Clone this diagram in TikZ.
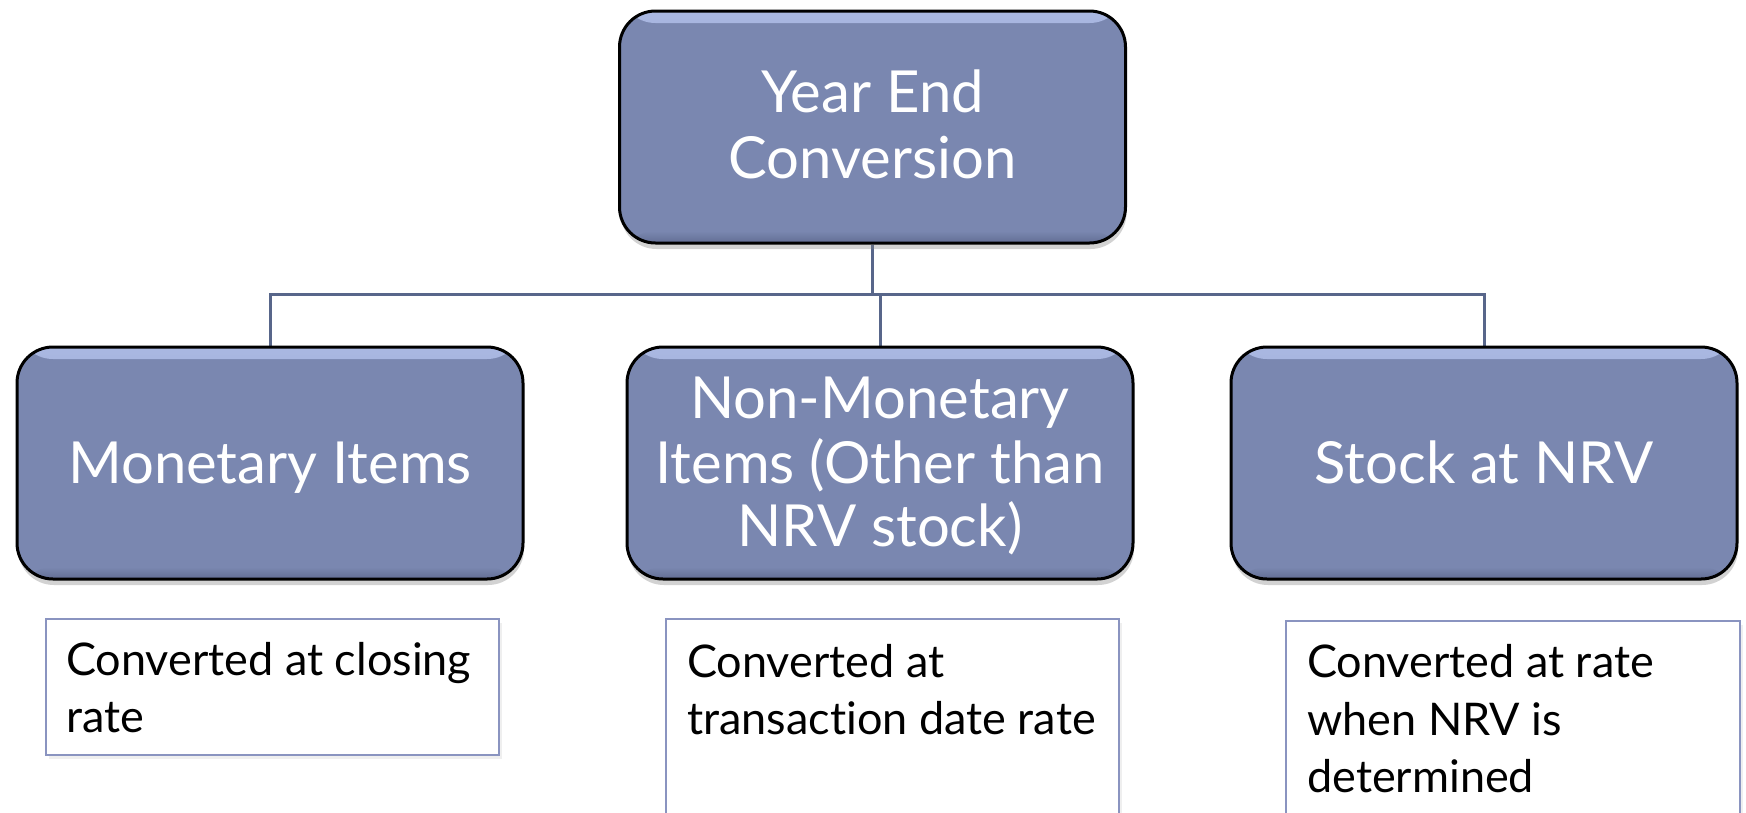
\documentclass[tikz,border=0pt]{standalone}
\usepackage{fontspec}
\setmainfont{Lato}[Ligatures={NoCommon}]
\usetikzlibrary{shadows,backgrounds}
\definecolor{boxfill}{RGB}{122,135,176}
\definecolor{boxhl}{RGB}{170,184,226}
\definecolor{boxdk}{RGB}{98,110,148}
\definecolor{conncol}{RGB}{88,102,138}
\definecolor{tbcol}{RGB}{138,148,192}
\begin{document}
\begin{tikzpicture}[x=1pt,y=-1pt,
  mainbox/.style={draw=black, line width=3pt, rounded corners=36pt, fill=boxfill,
    minimum width=506pt, minimum height=232pt, inner sep=0pt,
    drop shadow={shadow xshift=1pt, shadow yshift=-6pt, opacity=0.35},
    path picture={
      \fill[top color=boxhl, bottom color=boxfill] (path picture bounding box.north west) rectangle ([yshift=-12pt]path picture bounding box.north east);
      \fill[top color=boxfill, bottom color=boxdk] ([yshift=12pt]path picture bounding box.south west) rectangle (path picture bounding box.south east);
    }},
  mtext/.style={text=white, font=\fontsize{58}{62}\selectfont, anchor=base, inner sep=0pt},
  btext/.style={text=black, font=\fontsize{45}{50}\selectfont, anchor=base west, inner sep=0pt},
  tbox/.style={draw=tbcol, line width=1.5pt, fill=white, inner sep=0pt,
    drop shadow={shadow xshift=3pt, shadow yshift=-4pt, opacity=0.12}},
  conn/.style={draw=conncol, line width=3pt}]
\useasboundingbox (0,0) rectangle (1746,812);
\coordinate (bus) at (0,294);
% boxes
\node[mainbox] (top) at (872.5,127) {};
\node[mainbox] (left) at (270,463) {};
\node[mainbox] (mid) at (880,463) {};
\node[mainbox] (right) at (1484,463) {};
% connectors behind the boxes
\begin{pgfonlayer}{background}
\fill[white] (0,0) rectangle (1746,812);
\draw[conn] (top.south) -- (top.south |- bus);
\draw[conn] (left.north) -- (left.north |- bus) -- (right.north |- bus) -- (right.north);
\draw[conn] (mid.north |- bus) -- (mid.north);
\end{pgfonlayer}
% box texts
\node[mtext] (yl1) at (872.5,112) {Year End};
\node[mtext] (yl2) at (872.5,178) {Conversion};
\node[mtext] (ml1) at (270,483) {Monetary Items};
\node[mtext] (nl1) at (880,418) {Non-Monetary};
\node[mtext] (nl2) at (880,483) {Items (Other than};
\node[mtext] (nl3) at (880,546) {NRV stock)};
\node[mtext] (sl1) at (1484,483) {Stock at NRV};
% text boxes
\node[tbox, minimum width=453pt, minimum height=136pt] (b1) at (272.5,687) {};
\node[tbox, minimum width=453pt, minimum height=260pt] (b2) at (892.5,749) {};
\node[tbox, minimum width=454pt, minimum height=260pt] (b3) at (1513,751) {};
\node[btext] (c1a) at (66,675) {Converted at closing};
\node[btext] (c1b) at (66,732) {rate};
\node[btext] (c2a) at (687,677) {Converted at};
\node[btext] (c2b) at (687,734) {transaction date rate};
\node[btext] (c3a) at (1307,677) {Converted at rate};
\node[btext] (c3b) at (1307,735) {when NRV is};
\node[btext] (c3c) at (1307,792) {determined};
\end{tikzpicture}
\end{document}
